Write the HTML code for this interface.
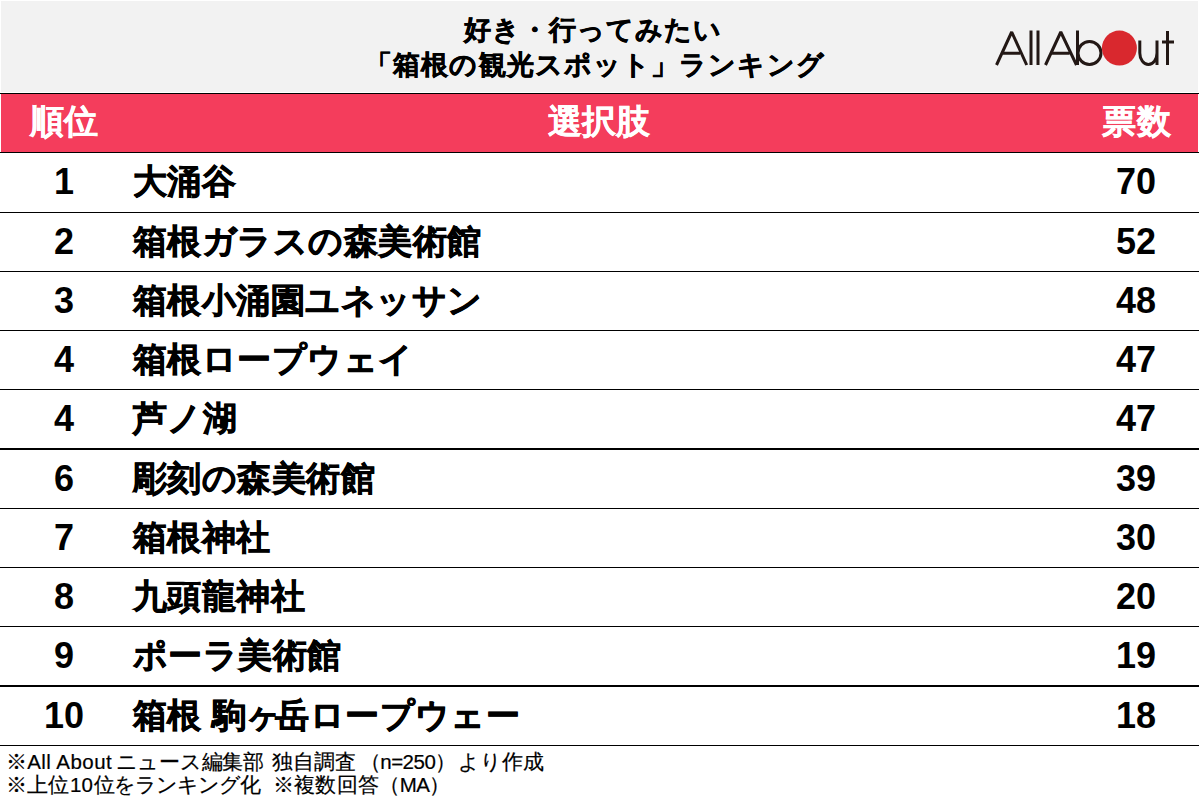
<!DOCTYPE html>
<html lang="ja">
<head>
<meta charset="utf-8">
<style>
html,body{margin:0;padding:0;}
body{width:1200px;height:806px;position:relative;overflow:hidden;background:#fff;font-family:"Liberation Sans",sans-serif;color:#000;}
.abs{position:absolute;white-space:nowrap;}
#tbg{left:1px;top:1px;width:1197px;height:91px;background:#f2f2f2;}
.title{left:0;width:1180px;text-align:center;font-size:27.25px;letter-spacing:1.1px;-webkit-text-stroke:0.5px #000;font-weight:bold;line-height:34px;}
#hdr{left:1px;top:94px;width:1197px;height:58px;background:#f43d5c;}
.ln{left:0;width:1199px;height:2px;background:#000;}
.h{color:#fff;-webkit-text-stroke:0.35px #fff;font-size:34px;letter-spacing:0.45px;font-weight:bold;line-height:58px;top:92px;}
.rk{left:14px;width:100px;text-align:center;font-size:36px;font-weight:bold;line-height:59px;}
.nm{left:133px;-webkit-text-stroke:0.7px #000;font-size:34px;letter-spacing:0.45px;font-weight:bold;line-height:59px;}
.vt{left:1086px;width:100px;text-align:center;font-size:36px;font-weight:bold;line-height:59px;}
.ft{font-size:20.5px;line-height:23px;-webkit-text-stroke:0.2px #000;}
</style>
</head>
<body>
<div class="abs" id="tbg"></div>
<div class="abs title" style="top:13px;left:3px">好き・行ってみたい</div>
<div class="abs title" style="top:48px;left:5px">「箱根の観光スポット」ランキング</div>
<svg class="abs" style="left:0;top:0" width="1200" height="92" viewBox="0 0 1200 92">
 <g fill="none" stroke="#231815" stroke-width="3">
  <path stroke-linejoin="bevel" d="M996.5 65 L1011.7 32 L1026.7 65 M1003 53.3 L1020 53.3"/>
  <path d="M1031 30.5 V65 M1038 30.5 V65"/>
  <path stroke-linejoin="bevel" d="M1045.5 65 L1060.8 32 L1076.5 65 M1052 53.3 L1069.5 53.3"/>
  <path d="M1077.5 30.5 V65"/>
  <circle cx="1089.5" cy="53" r="11.5"/>
  <path d="M1139.8 40.5 V53 A8.6 11.5 0 0 0 1157 53 M1157 40.5 V65"/>
  <path d="M1167.5 31 V65 M1162 42 H1174"/>
 </g>
 <circle cx="1119.4" cy="48.1" r="17.5" fill="#d9282e"/>
</svg>
<div class="abs" id="hdr"></div>
<div class="abs ln" style="top:93px;height:1px"></div>
<div class="abs ln" style="top:152px;height:1px"></div>
<div class="abs h" style="left:29.75px">順位</div>
<div class="abs h" style="left:547.5px">選択肢</div>
<div class="abs h" style="left:1102.25px">票数</div>

<div class="abs rk" style="top:152px">1</div><div class="abs nm" style="top:152px">大涌谷</div><div class="abs vt" style="top:152px">70</div>
<div class="abs ln" style="top:212px;height:1px"></div>
<div class="abs rk" style="top:212px">2</div><div class="abs nm" style="top:212px">箱根ガラスの森美術館</div><div class="abs vt" style="top:212px">52</div>
<div class="abs ln" style="top:271px;height:1px"></div>
<div class="abs rk" style="top:271px">3</div><div class="abs nm" style="top:271px">箱根小涌園ユネッサン</div><div class="abs vt" style="top:271px">48</div>
<div class="abs ln" style="top:330px;height:1px"></div>
<div class="abs rk" style="top:330px">4</div><div class="abs nm" style="top:330px">箱根ロープウェイ</div><div class="abs vt" style="top:330px">47</div>
<div class="abs ln" style="top:389px;height:1px"></div>
<div class="abs rk" style="top:389px">4</div><div class="abs nm" style="top:389px">芦ノ湖</div><div class="abs vt" style="top:389px">47</div>
<div class="abs ln" style="top:448px;height:2px"></div>
<div class="abs rk" style="top:449px">6</div><div class="abs nm" style="top:449px">彫刻の森美術館</div><div class="abs vt" style="top:449px">39</div>
<div class="abs ln" style="top:508px;height:1px"></div>
<div class="abs rk" style="top:508px">7</div><div class="abs nm" style="top:508px">箱根神社</div><div class="abs vt" style="top:508px">30</div>
<div class="abs ln" style="top:567px;height:1px"></div>
<div class="abs rk" style="top:567px">8</div><div class="abs nm" style="top:567px">九頭龍神社</div><div class="abs vt" style="top:567px">20</div>
<div class="abs ln" style="top:626px;height:1px"></div>
<div class="abs rk" style="top:626px">9</div><div class="abs nm" style="top:626px">ポーラ美術館</div><div class="abs vt" style="top:626px">19</div>
<div class="abs ln" style="top:685px;height:2px"></div>
<div class="abs rk" style="top:686px">10</div><div class="abs nm" style="top:686px">箱根 駒<span style="letter-spacing:-6px">ヶ</span>岳ロープウェー</div><div class="abs vt" style="top:686px">18</div>
<div class="abs ln" style="top:745px;height:1px"></div>
<div class="abs ft m" style="top:750px;left:5.75px;letter-spacing:0.45px">※All About</div><div class="abs ft m" style="top:750px;left:115.5px;letter-spacing:-0.25px">ニュース編集部</div><div class="abs ft m" style="top:750px;left:271.5px">独自調査</div><div class="abs ft m" style="top:750px;left:359.75px;letter-spacing:-0.5px">（n=250）</div><div class="abs ft m" style="top:750px;left:458px">より作成</div>
<div class="abs ft m" style="top:773px;left:5.75px">※上位</div><div class="abs ft m" style="top:773px;left:70px">10</div><div class="abs ft m" style="top:773px;left:93.75px;letter-spacing:-0.9px">位をランキング化</div><div class="abs ft m" style="top:773px;left:272.6px;letter-spacing:0.4px">※複数回答</div><div class="abs ft m" style="top:773px;left:379.3px;letter-spacing:-0.6px">（MA）</div>
</body>
</html>
